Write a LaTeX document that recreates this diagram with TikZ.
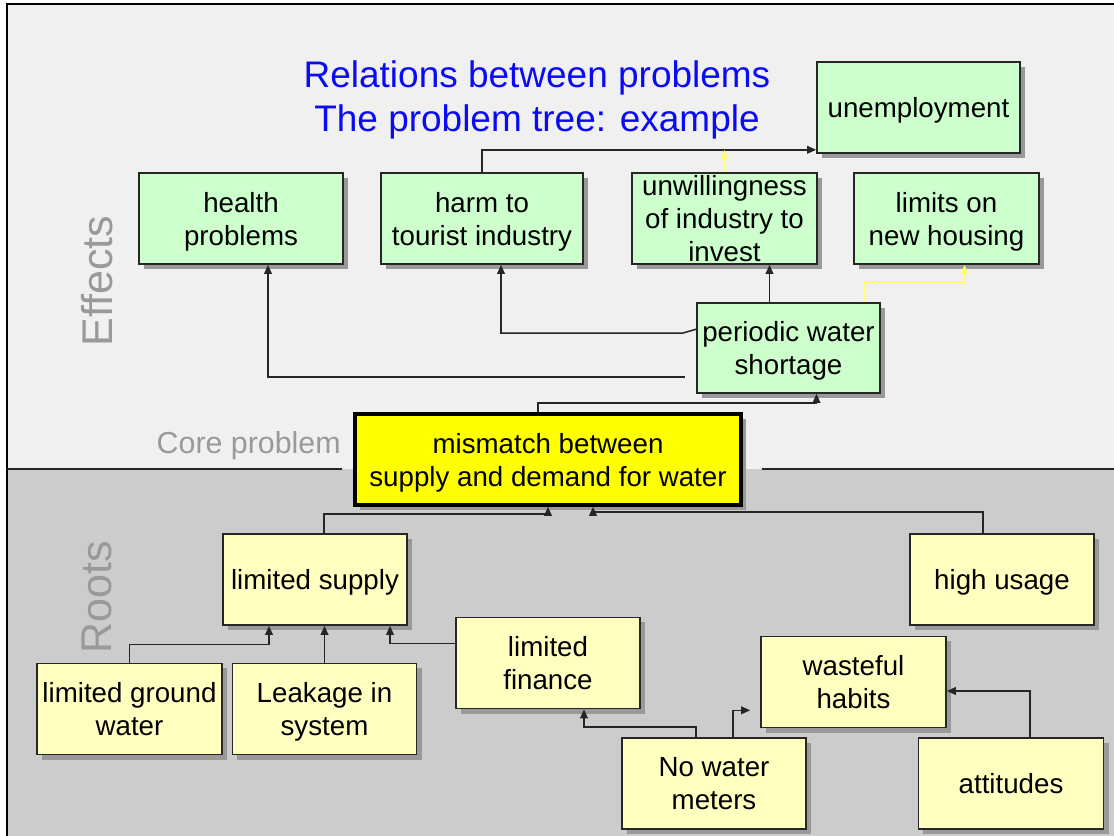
\documentclass[tikz,border=0pt]{standalone}
\usepackage{fontspec}
\setmainfont{Liberation Sans}
\usetikzlibrary{arrows.meta, calc, shadows}
\definecolor{effectcolor}{RGB}{204, 255, 204}
\definecolor{rootcolor}  {RGB}{255, 255, 192}
\definecolor{corecolor}  {RGB}{255, 255, 0}
\definecolor{uppercolor} {RGB}{240, 240, 240}
\definecolor{lowercolor} {RGB}{204, 204, 204}
\definecolor{labelcolor} {RGB}{153, 153, 153}
\definecolor{titlecolor} {RGB}{10, 10, 245}
\definecolor{hintcolor}  {RGB}{255, 255, 110}
\tikzset{
	baseblock/.style={
		rectangle, minimum width=4.6cm, minimum height=2.275cm,
		inner sep=1pt, align=center, text depth=0pt,
		font=\fontsize{19.7}{23.5}\selectfont,
		draw=black!85, line width=1.1pt,
		drop shadow={shadow xshift=0.125cm, shadow yshift=-0.125cm,
			fill=black!40, opacity=1}
	},
	effectblock/.style={baseblock, fill=effectcolor},
	rootblock/.style={baseblock, fill=rootcolor},
	coreblock/.style={
		baseblock, fill=corecolor, draw=black,
		line width=2.5pt, minimum width=9.65cm
	},
	arrow/.style={
		-{Triangle[length=6.5pt, width=5.5pt]}, line width=1.1pt, color=black!85
	},
	hintarrow/.style={arrow, color=hintcolor},
	sidelabel/.style={
		font=\fontsize{30.6}{36}\selectfont, text=labelcolor,
		rotate=90, inner sep=0pt
	}
}

\begin{document}
\begin{tikzpicture}[x=0.025cm, y=-0.025cm]
		\clip (0,0) rectangle (1114,836);
		
		%% ═══════════════════════════════
		%%  BACKGROUND — effects (top) and roots (bottom)
		%% ═══════════════════════════════
		\fill[uppercolor] (7,4) rectangle (1130,469);
		\fill[lowercolor] (7,469) rectangle (1130,850);
		\draw[line width=1.4pt] (1130,4) -- (7,4) -- (7,850);
		\draw[line width=1.1pt, black!85] (7,469) -- (342,469);
		\draw[line width=1.1pt, black!85] (762,469) -- (1130,469);
		
		\node[font=\fontsize{26.3}{31.3}\selectfont, text=titlecolor,
		align=center, inner sep=0pt] (title) at (537,99.5)
		{Relations between problems\\The problem tree: example};
		
		\node[sidelabel] (effects) at (97,281) {Effects};
		\node[sidelabel] (roots) at (97,597) {Roots};
		\node[font=\fontsize{21.6}{26}\selectfont, text=labelcolor,
		anchor=base east, inner sep=0pt] (corelabel) at (341,453) {Core problem};
		
		%% ═══════════════════════════════
		%%  EFFECTS
		%% ═══════════════════════════════
		\node[effectblock, minimum width=5.075cm] (unemp) at (918.5,107.5) {unemployment};
		\node[effectblock, minimum width=5.1cm] (health) at (241,218.5) {health\\problems};
		\node[effectblock, minimum width=5.05cm] (harm) at (482,218.5) {harm to\\tourist industry};
		\node[effectblock, minimum width=4.625cm] (unwilling) at (724.5,218.5) {unwillingness\\of industry to\\invest};
		\node[effectblock, minimum width=4.625cm] (limits) at (946.5,218.5) {limits on\\new housing};
		\node[effectblock, minimum width=4.575cm, minimum height=2.25cm] (periodic) at (788.5,348) {periodic water\\shortage};
		
		%% ═══════════════════════════════
		%%  CORE PROBLEM
		%% ═══════════════════════════════
		\node[coreblock] (core) at (548,459.5) {mismatch between\\supply and demand for water};
		
		%% ═══════════════════════════════
		%%  ROOTS
		%% ═══════════════════════════════
		\node[rootblock] (supply) at (315,579.5) {limited supply};
		\node[rootblock] (usage) at (1002,579.5) {high usage};
		\node[rootblock, minimum width=4.625cm] (ground) at (129.5,709) {limited ground\\water};
		\node[rootblock] (leak) at (324.5,709) {Leakage in\\system};
		\node[rootblock] (finance) at (548,663) {limited\\finance};
		\node[rootblock, minimum width=4.625cm] (habits) at (853.5,682) {wasteful\\habits};
		\node[rootblock] (meters) at (714,783.5) {No water\\meters};
		\node[rootblock, minimum width=4.625cm] (attitudes) at (1011,783.5) {attitudes};
		
		\coordinate (jobline) at ($(unemp.south west)+(0,-4)$);
		\coordinate (habitsgap) at ($(habits.south west)+(-10,-18)$);
		\coordinate (p3) at ($(periodic.north)+(-19,0)$);
		
		% periodic water shortage → effects
		\draw[arrow] ($(periodic.south west)+(-11,-17)$) -| ($(health.south)+(27,0)$);
		\draw[arrow] ($(periodic.north west)+(0,27)$) -- ++(-14,4) -| ($(harm.south)+(19,0)$);
		\draw[arrow] (p3) -- (p3 |- unwilling.south);
		\draw[hintarrow] ($(periodic.north east)+(-17,0)$) -- ++(0,-20) -| ($(limits.south)+(18,0)$);
		
		% harm / unwillingness → unemployment
		\draw[arrow] (harm.north) |- (jobline);
		\draw[hintarrow] (unwilling.north) -- (unwilling.north |- jobline);
		
		% core → periodic water shortage
		\draw[arrow] ($(core.north)+(-10,0)$) -- ++(0,-9) -| ($(periodic.south)+(28,0)$);
		
		% roots → core
		\draw[arrow] ($(supply.north)+(9,0)$) -- ++(0,-19) -| (core.south);
		\draw[arrow] ($(usage.north)+(-19,0)$) -- ++(0,-21) -| ($(core.south)+(45,0)$);
		
		% roots → limited supply
		\draw[arrow] (ground.north) -- ++(0,-18) -| ($(supply.south)+(-46,0)$);
		\draw[arrow] (leak.north) -- (leak.north |- supply.south);
		\draw[arrow] ($(finance.north west)+(0,27)$) -| ($(supply.south)+(75,0)$);
		
		% No water meters / attitudes
		\draw[arrow] ($(meters.north)+(-18,0)$) -- ++(0,-10) -| ($(finance.south)+(36,0)$);
		\draw[arrow] ($(meters.north)+(19,0)$) |- (habitsgap);
		\draw[arrow] ($(attitudes.north)+(19,0)$) |- ($(habits.east)+(0,9)$);
		
	\end{tikzpicture}
\end{document}
